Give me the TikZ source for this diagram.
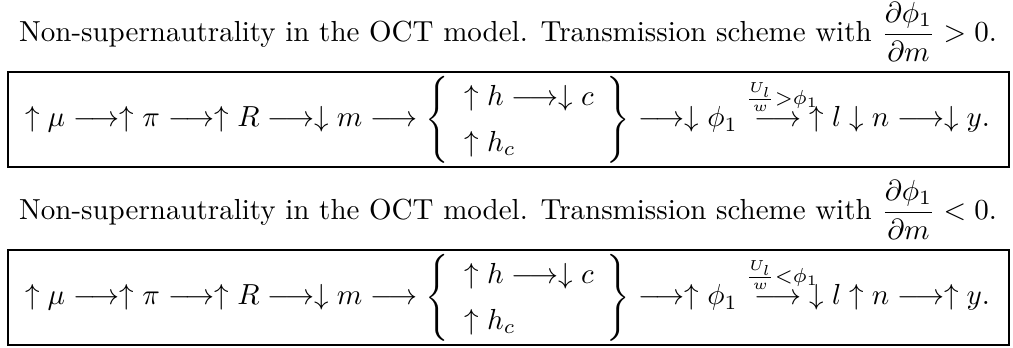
\documentclass[tikz,border=0pt]{standalone}
\usepackage{amsmath, amssymb}
\usepackage{tikz}
\usetikzlibrary{positioning}

\newcommand{\splitbrace}{\left\{\hspace{0.5pt}\renewcommand{\arraystretch}{1.3}%
  \begin{array}{l}
    \uparrow h \longrightarrow \downarrow c \\
    \uparrow h_c
  \end{array}\hspace{-0.5pt}\right\}}
% arrow with a label that hangs over the next symbol
\newcommand{\condarrow}[1]{\stackrel{\raisebox{2pt}{$\scriptstyle #1$}\hspace{-3pt}}{\longrightarrow}}
\newcommand{\flowline}[1]{\makebox[\linewidth][l]{$#1$}}

\begin{document}
\begin{tikzpicture}[x=0.3448pt, y=0.3448pt,
  titlen/.style={anchor=base, inner sep=0pt},
  schemebox/.style={draw, line width=0.7pt, minimum width=345.1pt, minimum height=32.8pt,
    text width=333.4pt, align=left, inner xsep=5.86pt, inner ysep=0pt}
]
  \useasboundingbox (0,0) rectangle (1013,347);
  % positive response of phi_1
  \node[titlen] (title1) at (508,305)
    {Non-supernautrality in the OCT model. Transmission scheme with $\dfrac{\partial \phi_1}{\partial m} > 0$.};
  \node[schemebox] (scheme1) at (508.5,227.5)
    {\flowline{\uparrow \mu \longrightarrow \uparrow \pi \longrightarrow \uparrow R \longrightarrow \downarrow m \longrightarrow
      \splitbrace \longrightarrow \downarrow \phi_1 \condarrow{\frac{U_l}{w} > \phi_1} \uparrow l \downarrow n \longrightarrow \downarrow y.}};
  % negative response of phi_1
  \node[titlen] (title2) at (508,127)
    {Non-supernautrality in the OCT model. Transmission scheme with $\dfrac{\partial \phi_1}{\partial m} < 0$.};
  \node[schemebox] (scheme2) at (508.5,49.5)
    {\flowline{\uparrow \mu \longrightarrow \uparrow \pi \longrightarrow \uparrow R \longrightarrow \downarrow m \longrightarrow
      \splitbrace \longrightarrow \uparrow \phi_1 \condarrow{\frac{U_l}{w} < \phi_1} \downarrow l \uparrow n \longrightarrow \uparrow y.}};
\end{tikzpicture}
\end{document}
